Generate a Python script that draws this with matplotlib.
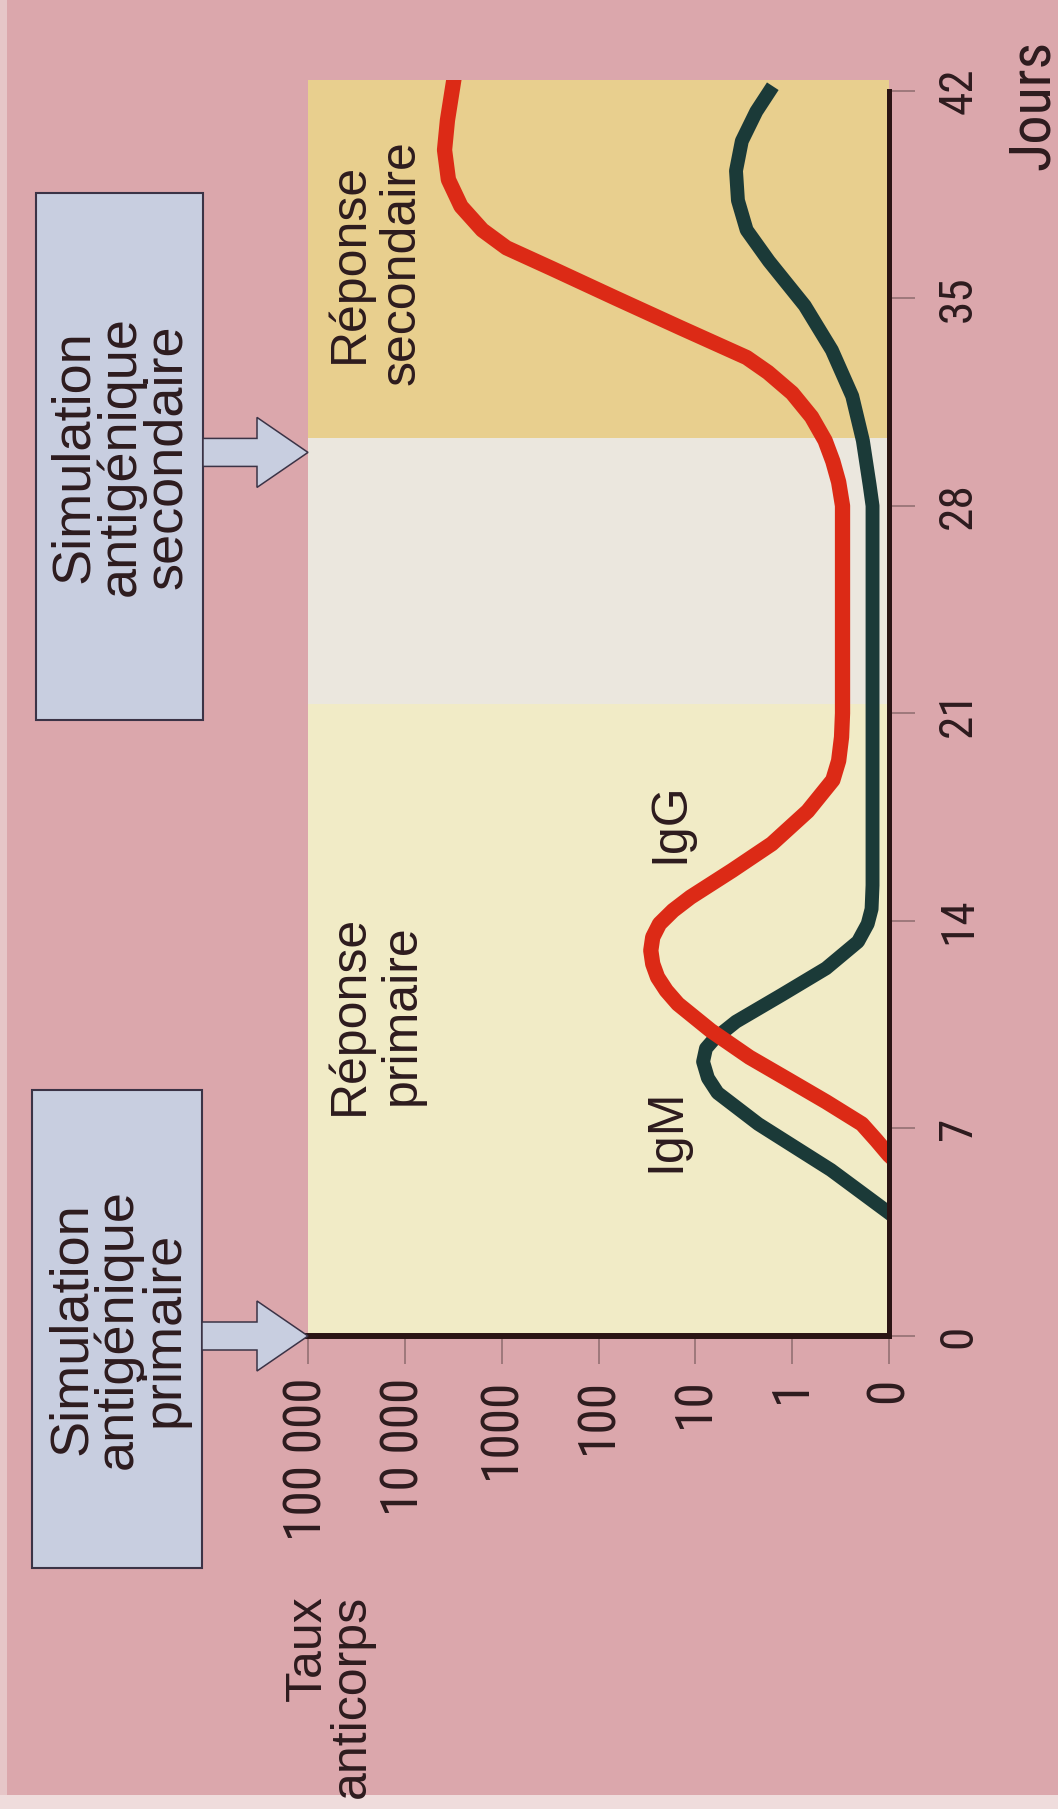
import matplotlib
matplotlib.use("Agg")
import matplotlib.pyplot as plt
from matplotlib.patches import Rectangle, Polygon
from matplotlib import font_manager

# --- values ---
# antibody level is kept in decades: 5 -> "100 000", 0 -> "1", -1 -> "0"
day_ticks = [0, 7, 14, 21, 28, 35, 42]
level_ticks = [5, 4, 3, 2, 1, 0, -1]
level_labels = ["100 000", "10 000", "1000", "100", "10", "1", "0"]

igm_days = [3.9, 4.15, 5.6, 7.15, 8.2, 8.7, 9.25, 9.7, 10.0, 10.6, 11.5, 12.4,
            13.3, 13.9, 14.4, 15.2, 20.0, 28.0, 28.7, 30.2, 31.7, 33.25, 34.75,
            36.25, 37.3, 38.3, 39.3, 40.3, 41.3, 42.15]
igm_level = [-1.1, -1.0, -0.40, 0.35, 0.77, 0.87, 0.92, 0.89, 0.81, 0.58, 0.11, -0.35,
             -0.68, -0.78, -0.82, -0.83, -0.83, -0.83, -0.80, -0.73, -0.62, -0.41, -0.13,
             0.24, 0.47, 0.56, 0.58, 0.52, 0.37, 0.20]

igg_days = [5.8, 6.1, 6.6, 7.15, 7.9, 8.7, 9.4, 10.3, 11.2, 11.65, 12.1, 12.55, 13.0,
            13.45, 13.9, 14.35, 14.8, 15.7, 16.6, 17.7, 18.75, 19.4, 20.2, 21.0, 28.0,
            28.8, 29.5, 30.2, 31.0, 31.8, 32.5, 33.0, 34.0, 35.0, 36.0, 36.7, 37.3,
            38.1, 39.0, 40.0, 41.0, 42.45]
igg_level = [-1.1, -1.0, -0.87, -0.72, -0.35, 0.07, 0.44, 0.84, 1.18, 1.30, 1.39, 1.44, 1.46,
             1.44, 1.37, 1.23, 1.05, 0.62, 0.21, -0.16, -0.42, -0.48, -0.51, -0.52, -0.52,
             -0.48, -0.42, -0.34, -0.20, 0.0, 0.25, 0.47, 1.15, 1.82, 2.48, 2.95, 3.2,
             3.42, 3.55, 3.59, 3.56, 3.49]

primary_span = (0, 21.3)
gap_span = (21.3, 30.3)
secondary_span = (30.3, 42.36)
stim_days = [0, 29.8]
stim_texts = ["Simulation\nantigénique\nprimaire", "Simulation\nantigénique\nsecondaire"]

# colours
PINK = "#dba7ac"
C_PRIM = "#f1ebc6"
C_GAP = "#ebe7de"
C_SEC = "#e8cf8e"
RED = "#dc2a16"
DARK = "#1b3a38"
BOX = "#c8cee0"
BOXE = "#3b3346"
TXT = "#2d1b1e"
AXC = "#2a1414"
TICKC = "#8d6b6e"

SANS = "Liberation Sans"


# a condensed sans face for the tick labels (static Roboto Condensed if present)
def condensed_font():
    files = {f.fname.split("/")[-1]: f.fname for f in font_manager.fontManager.ttflist}
    for want in ["LiberationSansNarrow-Regular.ttf", "RobotoCondensed-Regular.ttf",
                 "ArchivoNarrow-Regular.ttf", "FiraSansCondensed-Regular.ttf",
                 "DejaVuSansCondensed.ttf"]:
        if want in files:
            return font_manager.FontProperties(fname=files[want])
    return font_manager.FontProperties(family=SANS)


NARROW_FP = condensed_font()

W, H = 1058, 1809
fig = plt.figure(figsize=(W / 100, H / 100), dpi=100, facecolor=PINK)

# main chart, drawn rotated: x = level (inverted), y = days
ax = fig.add_axes([308 / W, 1 - 1336 / H, (889 - 308) / W, (1336 - 80) / H])
ax.set_xlim(5, -1)
ax.set_ylim(0, 42.36)
ax.set_facecolor("none")

ax.axhspan(*primary_span, color=C_PRIM, lw=0, zorder=0)
ax.axhspan(*gap_span, color=C_GAP, lw=0, zorder=0)
ax.axhspan(*secondary_span, color=C_SEC, lw=0, zorder=0)

ax.plot(igm_level, igm_days, color=DARK, lw=10, solid_capstyle="butt",
        solid_joinstyle="round", zorder=3)
ax.plot(igg_level, igg_days, color=RED, lw=11, solid_capstyle="butt",
        solid_joinstyle="round", zorder=4)

for s in ["top", "left"]:
    ax.spines[s].set_visible(False)
ax.spines["bottom"].set_linewidth(4.3)
ax.spines["bottom"].set_color(AXC)
ax.spines["right"].set_linewidth(3.6)
ax.spines["right"].set_color(AXC)
ax.spines["right"].set_bounds(0, 42)
for s in ["bottom", "right"]:
    ax.spines[s].set_capstyle("projecting")
    ax.spines[s].set_zorder(6)

ax.set_xticks(level_ticks)
ax.set_xticklabels(level_labels)
ax.tick_params(axis="x", direction="out", length=20, width=1.1, color=TICKC,
               pad=10, labelcolor=TXT, labelrotation=90)
for lab in ax.get_xticklabels():
    lab.set_fontproperties(NARROW_FP)
    lab.set_fontsize(37)

ax.yaxis.tick_right()
ax.set_yticks(day_ticks)
ax.tick_params(axis="y", direction="out", length=19, width=1.1, color=TICKC,
               pad=15, labelcolor=TXT, labelrotation=90)
for lab in ax.get_yticklabels():
    lab.set_fontproperties(NARROW_FP)
    lab.set_fontsize(34)
    lab.set_va("center")

# decoration layer in pixel coordinates
deco = fig.add_axes([0, 0, 1, 1], zorder=5)
deco.set_xlim(0, W)
deco.set_ylim(H, 0)
deco.axis("off")
deco.patch.set_alpha(0)

# pale scan edges on the left and at the bottom
deco.add_patch(Rectangle((0, 0), 7, H, fc="#e6c6c8", lw=0))
deco.add_patch(Rectangle((0, 1795), W, 14, fc="#efdcdc", lw=0))

boxes = [(32, 1090, 170, 478), (36, 193, 167, 527)]
for (bx, by, bw, bh), d, txt in zip(boxes, stim_days, stim_texts):
    deco.add_patch(Rectangle((bx, by), bw, bh, fc=BOX, ec=BOXE, lw=1.5))
    tx, ty = ax.transData.transform((5, d))
    ty = H - ty
    x0 = bx + bw
    hb = tx - 51
    pts = [(x0, ty - 14), (hb, ty - 14), (hb, ty - 35), (tx, ty),
           (hb, ty + 35), (hb, ty + 14), (x0, ty + 14)]
    deco.add_patch(Polygon(pts, closed=True, fc=BOX, ec=BOXE, lw=1.1))
    deco.text(bx + bw / 2 + 1, by + bh / 2, txt, rotation=90, ha="center", va="center",
              multialignment="center", fontsize=39, linespacing=0.9, color=TXT,
              family=SANS)

deco.text(375, 263, "Réponse\nsecondaire", rotation=90, ha="center", va="center",
          multialignment="center", fontsize=36, linespacing=1.15, color=TXT, family=SANS)
deco.text(375, 1015, "Réponse\nprimaire", rotation=90, ha="center", va="center",
          multialignment="center", fontsize=36, linespacing=1.15, color=TXT, family=SANS)
deco.text(666, 1130, "IgM", rotation=90, ha="center", va="center", fontsize=36,
          color=TXT, family=SANS)
deco.text(670, 823, "IgG", rotation=90, ha="center", va="center", fontsize=36,
          color=TXT, family=SANS)
deco.text(330, 1595, "Taux\nanticorps", rotation=90, ha="center", va="top",
          multialignment="right", fontsize=36, linespacing=0.95, color=TXT, family=SANS)
jours = deco.text(1033, 105, "Jours", rotation=90, ha="center", va="center",
                  color=TXT, fontproperties=NARROW_FP)
jours.set_fontsize(42)

fig.savefig("out.png", dpi=100, facecolor=PINK)
